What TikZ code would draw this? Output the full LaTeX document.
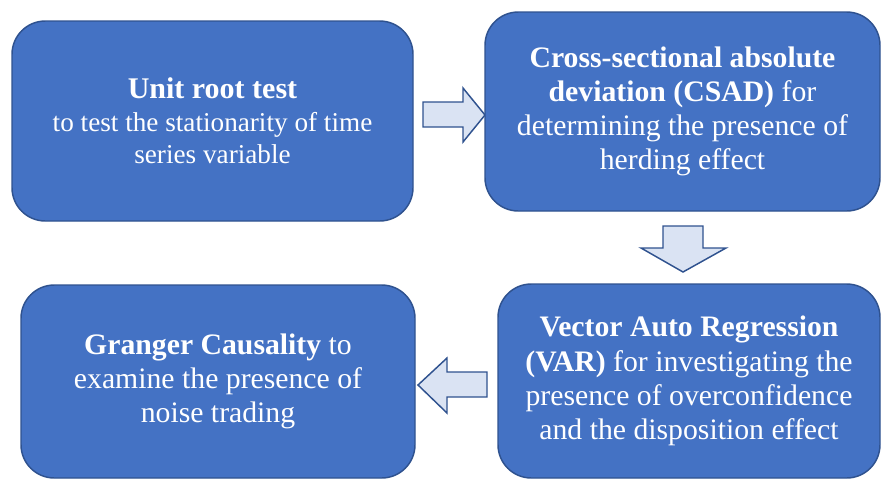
\documentclass[tikz,border=0pt]{standalone}
\usepackage{fontspec}
\setmainfont{Liberation Serif}
\definecolor{boxblue}{HTML}{4472C4}
\definecolor{edgeblue}{HTML}{2F528F}
\definecolor{arrowfill}{HTML}{DAE3F3}
\tikzset{
  stepbox/.style={rectangle, rounded corners=25pt, fill=boxblue, draw=edgeblue,
    line width=1.1pt, text=white, align=center, inner sep=0pt},
  blockarrow/.style={fill=arrowfill, draw=edgeblue, line width=1.1pt, line join=miter},
  smallfont/.style={font=\fontsize{20.4pt}{24.4pt}\selectfont},
  bigfont/.style={font=\fontsize{22.3pt}{25.6pt}\selectfont}
}
\begin{document}
\begin{tikzpicture}[x=0.75pt,y=-0.75pt]
\useasboundingbox (0,0) rectangle (882,480);
% arrows (drawn first)
\draw[blockarrow] (423,102) -- (463,102) -- (463,88) -- (485,115) -- (463,142) -- (463,127) -- (423,127) -- cycle;
\draw[blockarrow] (663,226) -- (703,226) -- (703,248) -- (726,248) -- (683,272) -- (641,248) -- (663,248) -- cycle;
\draw[blockarrow] (487,372) -- (447,372) -- (447,358) -- (418,385) -- (447,413) -- (447,397) -- (487,397) -- cycle;
% boxes
\node[stepbox, smallfont, minimum width=300.75pt, minimum height=150pt] (b1) at (212.5,121)
  {{\fontsize{22.5pt}{24.6pt}\selectfont\textbf{Unit root test}}\\to test the stationarity of time\\series variable};
\node[stepbox, bigfont, minimum width=296.25pt, minimum height=149.25pt] (b2) at (682.5,111.5)
  {\textbf{Cross-sectional absolute}\\\textbf{deviation (CSAD)} for\\determining the presence of\\herding effect};
\node[stepbox, bigfont, minimum width=286.5pt, minimum height=145.5pt] (b4) at (689,381)
  {\textbf{Vector Auto Regression}\\\textbf{(VAR)} for investigating the\\presence of overconfidence\\and the disposition effect};
\node[stepbox, bigfont, minimum width=295.5pt, minimum height=144.75pt] (b3) at (218,381.5)
  {\textbf{Granger Causality} to\\examine the presence of\\noise trading};
\end{tikzpicture}
\end{document}
